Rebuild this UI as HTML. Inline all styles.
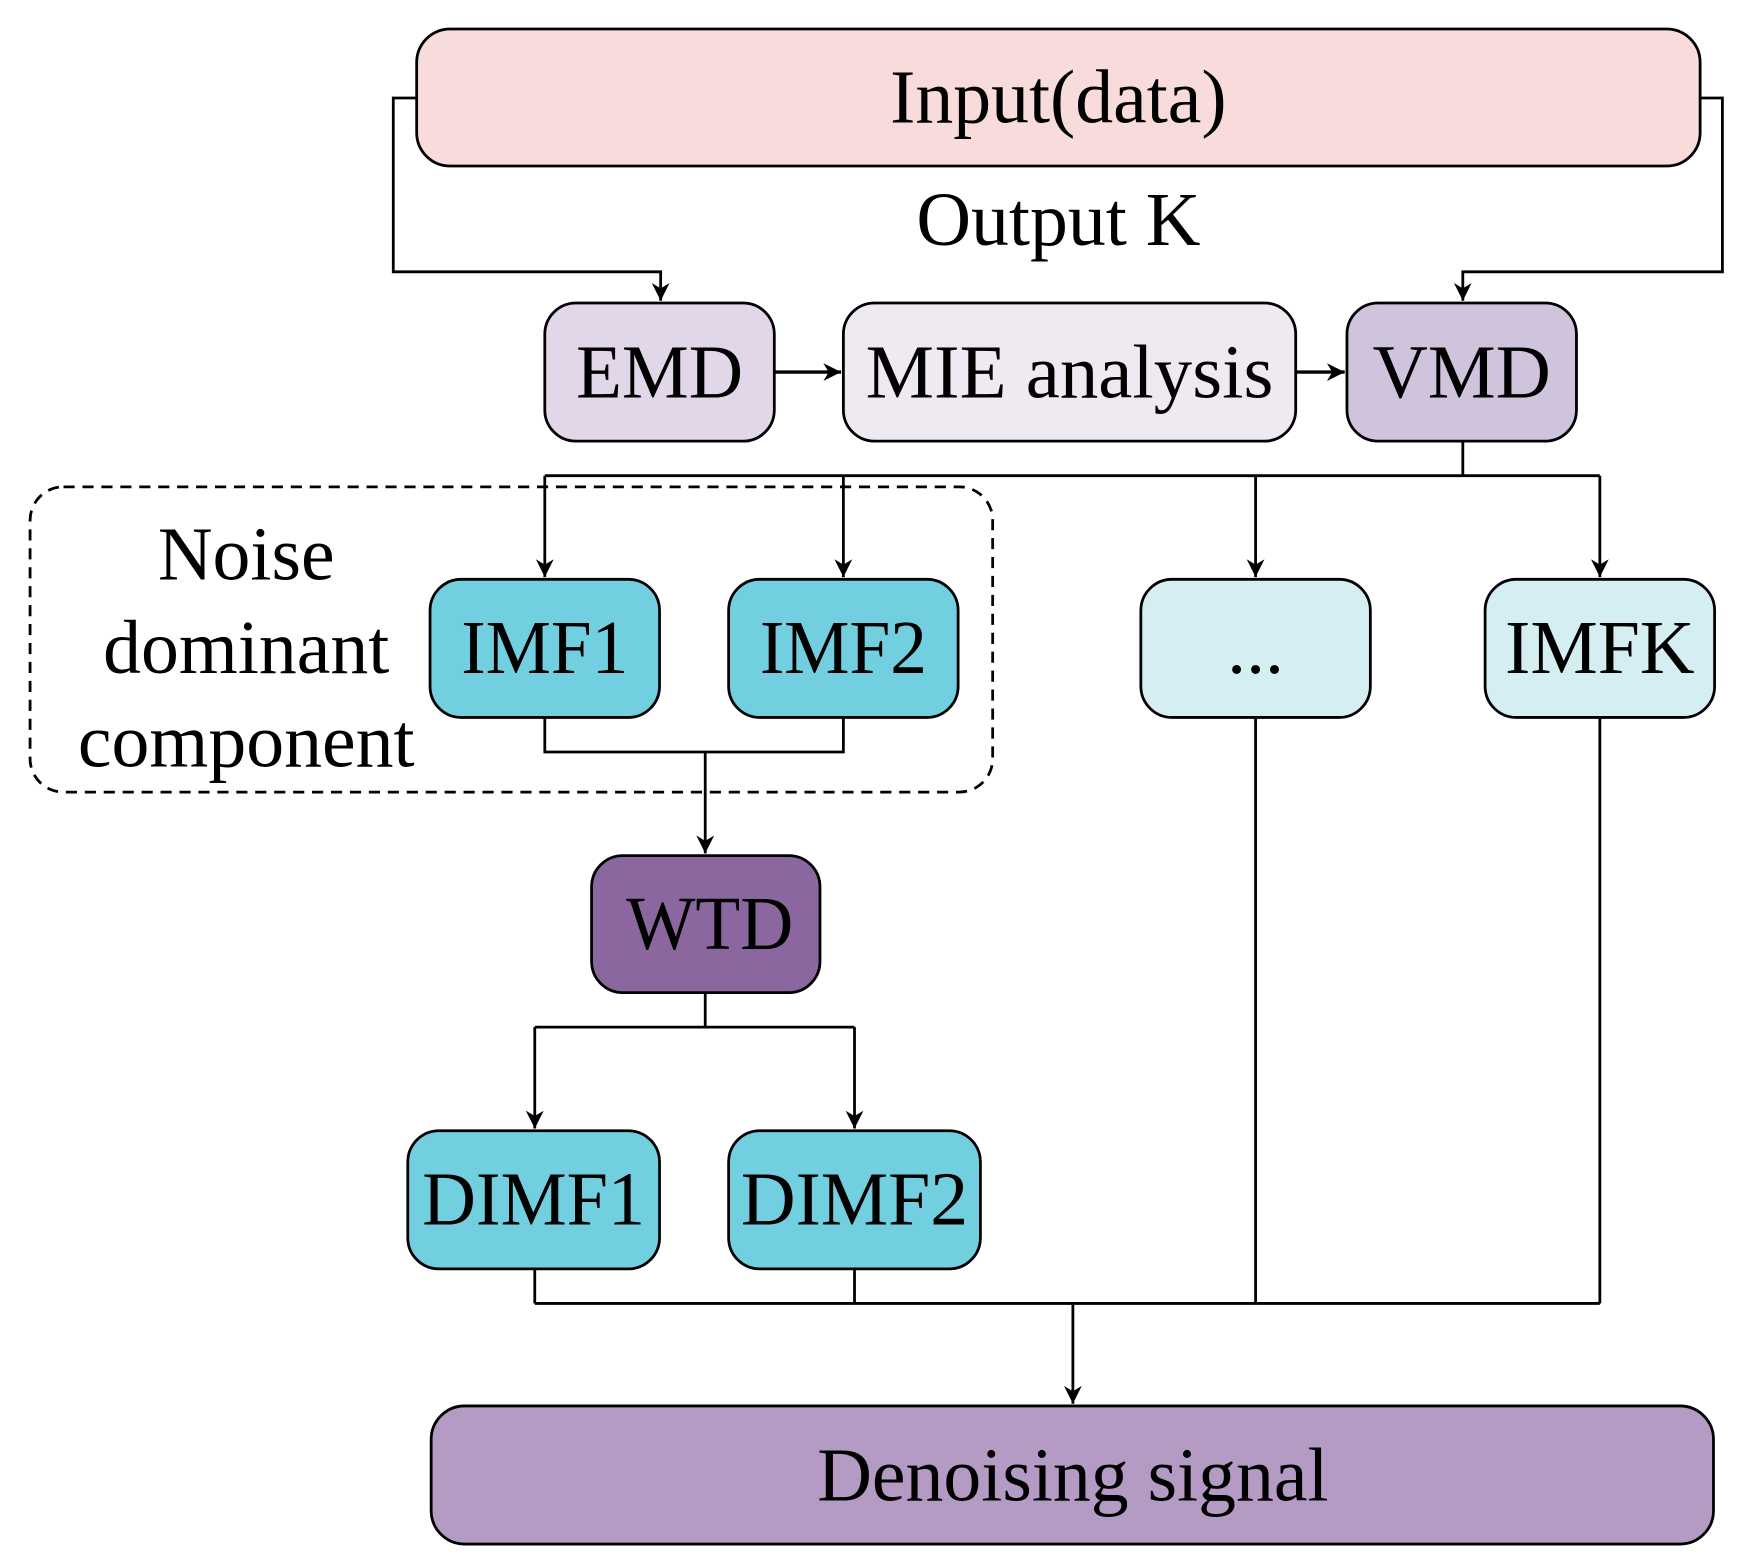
<!DOCTYPE html>
<html><head><style>html,body{margin:0;padding:0;background:#fff}svg{display:block}</style></head><body>
<svg width="1738" height="1558" viewBox="0 0 1560 1398.5" preserveAspectRatio="none" xmlns="http://www.w3.org/2000/svg" font-family="Liberation Serif, serif" font-size="68" text-anchor="middle">
<defs><marker id="b" viewBox="0 0 10 10" refX="10" refY="5" markerWidth="16" markerHeight="16" markerUnits="userSpaceOnUse" orient="auto"><path d="M0,0 L10,5 L0,10 L3,5 z" fill="#000"/></marker></defs>
<g stroke="#000" stroke-width="2.5" fill="none">
<path d="M374,88 H353 V244 H593 V270" marker-end="url(#b)"/>
<path d="M1526,88 H1546 V244 H1313 V270" marker-end="url(#b)"/>
<path d="M695,334 H755" stroke-width="3" marker-end="url(#b)"/>
<path d="M1163,334 H1207" stroke-width="3" marker-end="url(#b)"/>
<path d="M1313,396 V427 M489,427 H1436"/>
<path d="M489,427 V518" marker-end="url(#b)"/>
<path d="M757,427 V518" marker-end="url(#b)"/>
<path d="M1127,427 V518" marker-end="url(#b)"/>
<path d="M1436,427 V518" marker-end="url(#b)"/>
<path d="M489,644 V675 H757 V644"/>
<path d="M633,675 V766" marker-end="url(#b)"/>
<path d="M633,891 V922 M480,922 H767"/>
<path d="M480,922 V1013" marker-end="url(#b)"/>
<path d="M767,922 V1013" marker-end="url(#b)"/>
<path d="M480,1139 V1170 M767,1139 V1170 M1127,644 V1170 M1436,644 V1170 M480,1170 H1436"/>
<path d="M963,1170 V1260" marker-end="url(#b)"/>
<rect x="27" y="437" width="864" height="274" rx="30" stroke-dasharray="10,7"/>
</g>
<g stroke="#000" stroke-width="2.5">
<rect x="374" y="26" width="1152" height="123" rx="30" fill="#f8dcdb"/>
<rect x="489" y="272" width="206" height="124" rx="28" fill="#e2d7e8"/>
<rect x="757" y="272" width="406" height="124" rx="28" fill="#efeaf2"/>
<rect x="1209" y="272" width="206" height="124" rx="28" fill="#d0c3dc"/>
<rect x="386" y="520" width="206" height="124" rx="28" fill="#72cfdf"/>
<rect x="654" y="520" width="206" height="124" rx="28" fill="#72cfdf"/>
<rect x="1024" y="520" width="206" height="124" rx="28" fill="#d5eef2"/>
<rect x="1333" y="520" width="206" height="124" rx="28" fill="#d5eef2"/>
<rect x="531" y="768" width="205" height="123" rx="28" fill="#8b67a0"/>
<rect x="366" y="1015" width="226" height="124" rx="28" fill="#72cfdf"/>
<rect x="654" y="1015" width="226" height="124" rx="28" fill="#72cfdf"/>
<rect x="387" y="1262" width="1151" height="124" rx="30" fill="#b49bc4"/>
</g>
<g fill="#000">
<text x="950" y="110">Input(data)</text>
<text x="950" y="220">Output K</text>
<text x="592" y="357" textLength="150" lengthAdjust="spacingAndGlyphs">EMD</text>
<text x="960" y="357" textLength="366" lengthAdjust="spacingAndGlyphs">MIE analysis</text>
<text x="1312" y="357" textLength="160" lengthAdjust="spacingAndGlyphs">VMD</text>
<text x="221" y="520">Noise</text>
<text x="221" y="604">dominant</text>
<text x="221" y="688">component</text>
<text x="489" y="604" textLength="150" lengthAdjust="spacingAndGlyphs">IMF1</text>
<text x="757" y="604" textLength="150" lengthAdjust="spacingAndGlyphs">IMF2</text>
<text x="1127" y="604">...</text>
<text x="1436" y="604" textLength="170" lengthAdjust="spacingAndGlyphs">IMFK</text>
<text x="637" y="852" textLength="150" lengthAdjust="spacingAndGlyphs">WTD</text>
<text x="479" y="1099" textLength="200" lengthAdjust="spacingAndGlyphs">DIMF1</text>
<text x="767" y="1099" textLength="204" lengthAdjust="spacingAndGlyphs">DIMF2</text>
<text x="963" y="1347">Denoising signal</text>
</g>
</svg>
</body></html>
